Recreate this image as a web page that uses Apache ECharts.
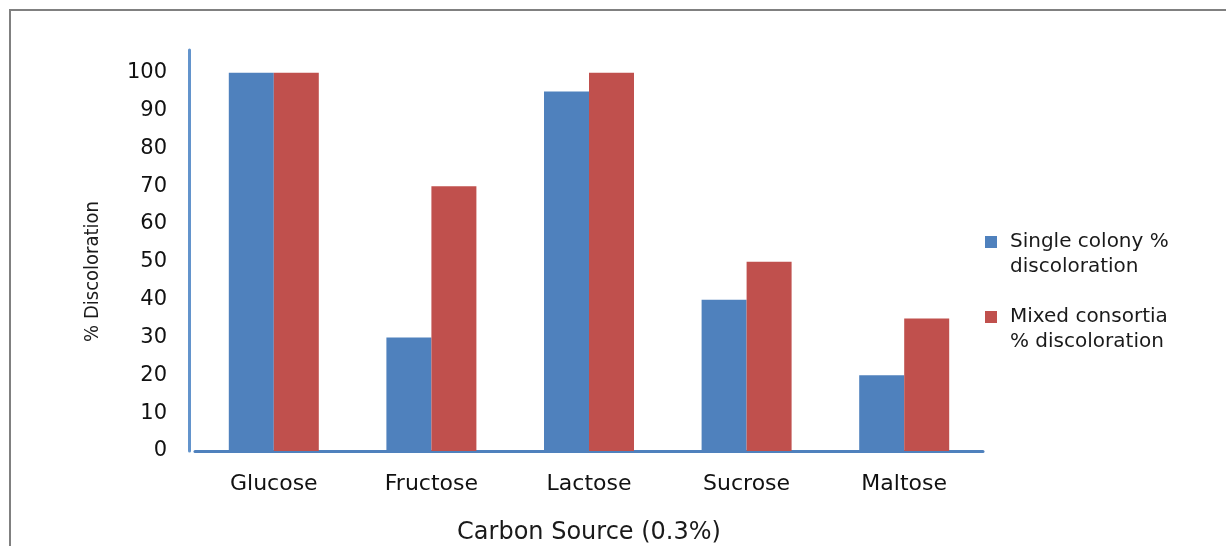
<!DOCTYPE html>
<html><head><meta charset="utf-8">
<script src="https://cdn.jsdelivr.net/npm/echarts@6/dist/echarts.min.js"></script>
<style>
html,body{margin:0;padding:0;background:#fff}
#wrap{position:relative;width:1226px;height:546px;overflow:hidden}
#c{position:absolute;left:0;top:0;width:1226px;height:546px}
#frame{position:absolute;left:9px;top:9px;width:1300px;height:600px;border-left:2px solid #808080;border-top:2px solid #808080;pointer-events:none}
</style>
</head><body>
<div id="wrap"><div id="c"></div><div id="frame"></div></div>
<script>
const categories = ['Glucose', 'Fructose', 'Lactose', 'Sucrose', 'Maltose'];
const singleColony = [100, 30, 95, 40, 20];
const mixedConsortia = [100, 70, 100, 50, 35];
const seriesNames = ['Single colony %\ndiscoloration', 'Mixed consortia\n% discoloration'];
const yTickLabels = [0, 10, 20, 30, 40, 50, 60, 70, 80, 90, 100];

const FONT = '"DejaVu Sans", Verdana, sans-serif';
const chart = echarts.init(document.getElementById('c'), null, {renderer: 'canvas'});
chart.setOption({
  animation: false,
  backgroundColor: 'transparent',
  grid: {left: 195, width: 788, top: 50, bottom: 95, containLabel: false, outerBoundsMode: 'none'},
  legend: {
    orient: 'vertical', left: 985, top: 207, padding: 0, itemGap: 5,
    icon: 'rect', itemWidth: 12, itemHeight: 12,
    data: seriesNames,
    formatter: name => '{e| }\n' + name.split('\n').map(s => '{t|' + s + '}').join('\n'),
    textStyle: {
      fontFamily: FONT, fontSize: 20, color: '#1a1a1a',
      rich: {
        e: {fontFamily: FONT, fontSize: 20, lineHeight: 25},
        t: {fontFamily: FONT, fontSize: 20, lineHeight: 25, color: '#1a1a1a', padding: [0, 0, 0, 8]}
      }
    }
  },
  xAxis: {
    type: 'category', data: categories,
    name: 'Carbon Source (0.3%)', nameLocation: 'middle', nameGap: 70,
    nameTextStyle: {fontFamily: FONT, fontSize: 24, color: '#1a1a1a'},
    axisLine: {lineStyle: {color: '#4F81BD', width: 3}},
    axisTick: {show: false},
    axisLabel: {fontFamily: FONT, fontSize: 22, color: '#111', margin: 22}
  },
  yAxis: {
    type: 'value', min: 0, max: 106, interval: 10, offset: 6,
    name: '% Discoloration', nameLocation: 'middle', nameGap: 86,
    nameTextStyle: {fontFamily: '"Liberation Sans Narrow", "DejaVu Sans Condensed", sans-serif', fontSize: 20, color: '#1a1a1a', padding: [0, 42, 0, 0]},
    axisLine: {show: true, lineStyle: {color: '#6394CC', width: 3}},
    axisTick: {show: false},
    splitLine: {show: false},
    axisLabel: {
      fontFamily: FONT, fontSize: 21, color: '#111', margin: 22,
      formatter: v => (yTickLabels.indexOf(v) >= 0 ? String(v) : '')
    }
  },
  series: [
    {name: seriesNames[0], type: 'bar', data: singleColony, barWidth: 45, barGap: '0%', itemStyle: {color: '#4F81BD'}},
    {name: seriesNames[1], type: 'bar', data: mixedConsortia, barWidth: 45, barGap: '0%', itemStyle: {color: '#C0504D'}}
  ]
});
</script>
</body></html>
